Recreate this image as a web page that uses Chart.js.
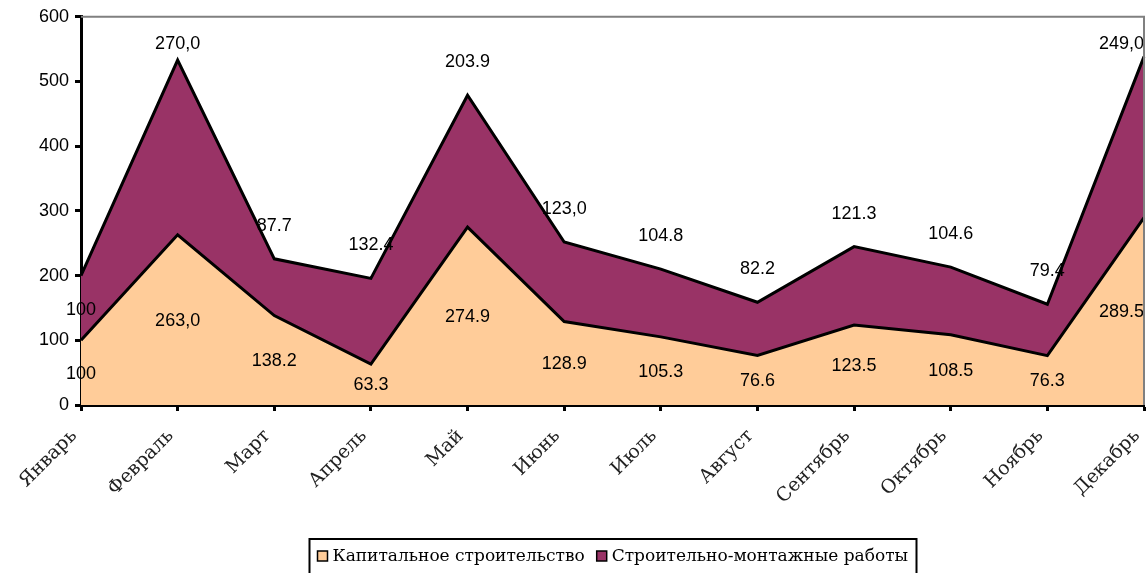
<!DOCTYPE html>
<html>
<head>
<meta charset="utf-8">
<script src="https://cdn.jsdelivr.net/npm/chart.js@4"></script>
<style>
  html, body { margin: 0; padding: 0; background: #fff; }
  #wrap { width: 1148px; height: 573px; }
</style>
</head>
<body>
<div id="wrap"><canvas id="chart" width="1148" height="573"></canvas></div>
<script>
const months = ['Январь', 'Февраль', 'Март', 'Апрель', 'Май', 'Июнь', 'Июль', 'Август', 'Сентябрь', 'Октябрь', 'Ноябрь', 'Декабрь'];
const capital = [100, 263.0, 138.2, 63.3, 274.9, 128.9, 105.3, 76.6, 123.5, 108.5, 76.3, 289.5];
const smr = [100, 270.0, 87.7, 132.4, 203.9, 123.0, 104.8, 82.2, 121.3, 104.6, 79.4, 249.0];
// labels as printed on the chart (mixed decimal separators)
const capitalLabels = ['100', '263,0', '138.2', '63.3', '274.9', '128.9', '105.3', '76.6', '123.5', '108.5', '76.3', '289.5'];
const smrLabels = ['100', '270,0', '87.7', '132.4', '203.9', '123,0', '104.8', '82.2', '121.3', '104.6', '79.4', '249,0'];
const seriesNames = ['Капитальное строительство', 'Строительно-монтажные работы'];
const yTicks = [0, 100, 200, 300, 400, 500, 600];

const colors = ['#FFCC99', '#993366'];

// value labels
const valueLabels = {
  id: 'valueLabels',
  afterDatasetsDraw(chart) {
    const ctx = chart.ctx;
    const area = chart.chartArea;
    const bottom = chart.scales.y.getPixelForValue(0);
    const m0 = chart.getDatasetMeta(0).data;
    const m1 = chart.getDatasetMeta(1).data;
    ctx.save();
    ctx.font = '18px "Liberation Sans", Arial, sans-serif';
    ctx.fillStyle = '#000';
    ctx.textBaseline = 'middle';
    const put = (txt, x, y) => {
      const w = ctx.measureText(txt).width;
      if (x + w / 2 > area.right) {
        ctx.textAlign = 'right';
        ctx.fillText(txt, area.right, y);
      } else {
        ctx.textAlign = 'center';
        ctx.fillText(txt, x, y);
      }
    };
    m0.forEach((p, i) => {
      put(capitalLabels[i], p.x, (p.y + bottom) / 2 + 1);
    });
    m1.forEach((p, i) => {
      let y;
      if (i === 0) y = (p.y + m0[i].y) / 2 + 2;
      else y = Math.max(p.y - 33, area.top + 27);
      put(smrLabels[i], p.x, y);
    });
    ctx.restore();
  }
};

// gray frame on top/right and boxed legend at the bottom
const frameAndLegend = {
  id: 'frameAndLegend',
  afterDraw(chart) {
    const ctx = chart.ctx;
    const a = chart.chartArea;
    ctx.save();
    ctx.strokeStyle = '#808080';
    ctx.lineWidth = 2;
    ctx.beginPath();
    ctx.moveTo(a.left, a.top);
    ctx.lineTo(a.right, a.top);
    ctx.lineTo(a.right, a.bottom);
    ctx.stroke();

    ctx.font = '17px "DejaVu Serif", serif';
    const sq = 10, gap = 5, gap2 = 12;
    const w0 = ctx.measureText(seriesNames[0]).width;
    const w1 = ctx.measureText(seriesNames[1]).width;
    const total = sq + gap + w0 + gap2 + sq + gap + w1;
    const cx = (a.left + a.right) / 2;
    const pad = 8;
    const boxL = Math.round(cx - total / 2 - pad) + 0.5;
    const boxR = Math.round(cx + total / 2 + pad) + 0.5;
    const boxT = 539;
    ctx.strokeStyle = '#000';
    ctx.lineWidth = 2;
    ctx.strokeRect(boxL, boxT, boxR - boxL, 60);
    let x = boxL + pad;
    const cy = 556;
    ctx.textBaseline = 'middle';
    ctx.textAlign = 'left';
    [0, 1].forEach(k => {
      ctx.fillStyle = colors[k];
      ctx.fillRect(x, cy - sq / 2, sq, sq);
      ctx.lineWidth = 1.5;
      ctx.strokeStyle = '#000';
      ctx.strokeRect(x, cy - sq / 2, sq, sq);
      x += sq + gap;
      ctx.fillStyle = '#000';
      ctx.fillText(seriesNames[k], x, cy + 1);
      x += (k === 0 ? w0 : w1) + gap2;
    });
    ctx.restore();
  }
};

new Chart(document.getElementById('chart'), {
  type: 'line',
  data: {
    labels: months,
    datasets: [
      {
        label: seriesNames[0],
        data: capital,
        backgroundColor: colors[0],
        borderColor: '#000',
        borderWidth: 3,
        fill: 'origin',
        pointRadius: 0,
        tension: 0
      },
      {
        label: seriesNames[1],
        data: smr,
        backgroundColor: colors[1],
        borderColor: '#000',
        borderWidth: 3,
        fill: '-1',
        pointRadius: 0,
        tension: 0
      }
    ]
  },
  options: {
    responsive: false,
    animation: false,
    layout: { padding: { left: 0, right: 4, top: 15, bottom: 48 } },
    plugins: {
      legend: { display: false },
      tooltip: { enabled: false }
    },
    scales: {
      x: {
        offset: false,
        border: { display: true, color: '#000', width: 3 },
        grid: { display: true, drawOnChartArea: false, drawTicks: true, tickLength: 6, tickColor: '#000', tickWidth: 3 },
        ticks: {
          color: '#222',
          font: { family: '"DejaVu Serif", serif', size: 19 },
          maxRotation: 45,
          minRotation: 45,
          autoSkip: false,
          labelOffset: -7,
          padding: 14
        },
        afterFit(scale) {
          scale.height = 120;
          scale.paddingLeft = 0;
          scale.paddingRight = 0;
        }
      },
      y: {
        stacked: true,
        min: 0,
        max: 600,
        afterBuildTicks(scale) {
          scale.ticks = yTicks.map(v => ({ value: v }));
        },
        border: { display: true, color: '#000', width: 3 },
        grid: { display: true, drawOnChartArea: false, drawTicks: true, tickLength: 6, tickColor: '#000', tickWidth: 3 },
        ticks: {
          color: '#000',
          font: { family: '"Liberation Sans", Arial, sans-serif', size: 18 },
          padding: 6
        },
        afterFit(scale) {
          scale.width = 81;
        }
      }
    }
  },
  plugins: [valueLabels, frameAndLegend]
});
</script>
</body>
</html>
